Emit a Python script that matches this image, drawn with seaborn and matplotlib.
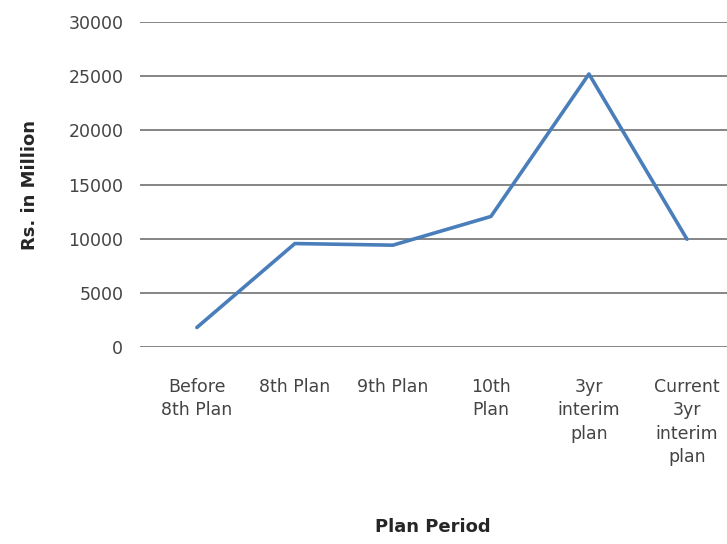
import matplotlib
matplotlib.use("Agg")
import matplotlib.pyplot as plt
import seaborn as sns
import pandas as pd

categories = ["Before 8th Plan", "8th Plan", "9th Plan", "10th Plan",
              "3yr interim plan", "Current 3yr interim plan"]
tick_labels = ["Before\n8th Plan", "8th Plan", "9th Plan", "10th\nPlan",
               "3yr\ninterim\nplan", "Current\n3yr\ninterim\nplan"]
values = [1800, 9550, 9400, 12050, 25200, 9950]
y_ticks = [0, 5000, 10000, 15000, 20000, 25000, 30000]

df = pd.DataFrame({"period": categories, "value": values})

sns.set_style("white")
plt.rcParams["font.family"] = ["DejaVu Sans"]

fig = plt.figure(figsize=(7.27, 5.44), dpi=100)
ax = fig.add_axes([140 / 727, 197 / 544, 596 / 727, 325 / 544])

sns.lineplot(data=df, x="period", y="value", ax=ax, color="#4a7ebb",
             linewidth=2.6, sort=False)

ax.set_xlim(-0.58, 5.5)
ax.set_ylim(0, 30000)
ax.set_yticks(y_ticks)
ax.set_yticklabels([str(v) for v in y_ticks], fontsize=12.5, color="#444444")
ax.set_xticks(range(len(categories)))
ax.set_xticklabels(tick_labels, fontsize=12.5, color="#444444",
                   linespacing=1.4, va="top")
ax.tick_params(axis="both", length=0)
ax.tick_params(axis="y", pad=12)
ax.tick_params(axis="x", pad=22)

ax.grid(axis="y", color="#858585", linewidth=1.4)
ax.grid(axis="x", visible=False)
for s in ["top", "right", "left", "bottom"]:
    ax.spines[s].set_visible(False)

ax.set_xlabel("Plan Period", fontsize=13, fontweight="bold")
ax.set_ylabel("Rs. in Million", fontsize=13, fontweight="bold")
ax.xaxis.set_label_coords((433 - 140) / 596, -(518 - 347) / 325)
ax.yaxis.set_label_coords((39 - 140) / 596, 0.5)

fig.savefig("out.png", dpi=100)
